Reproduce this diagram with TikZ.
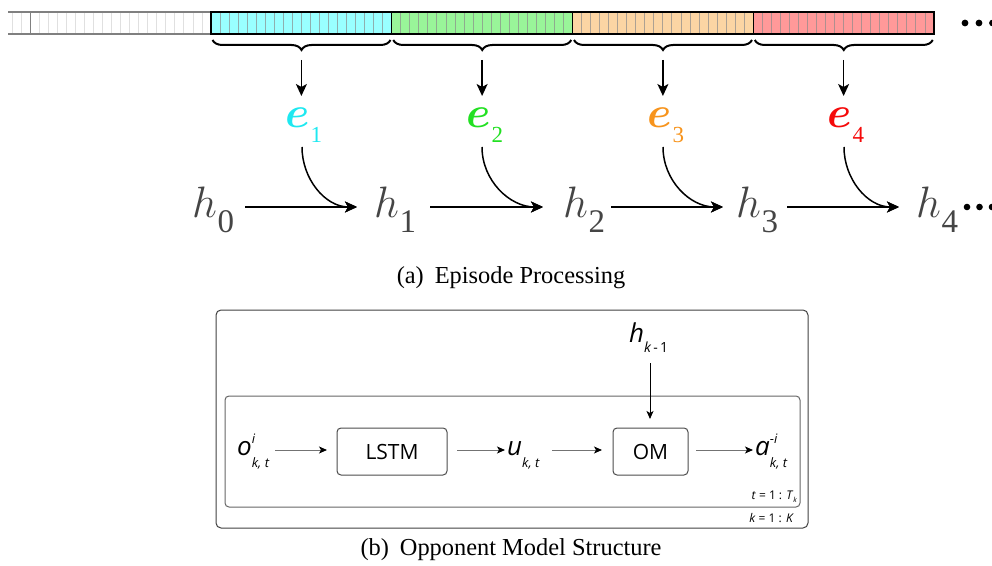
\RequirePackage{fix-cm}
\documentclass[tikz,border=0pt]{standalone}
\usepackage{fontspec}
\setmainfont{Liberation Serif}
\newfontfamily\tms{Liberation Serif}
\newfontfamily\osans{Open Sans}
\usetikzlibrary{arrows.meta,decorations.pathreplacing}
\definecolor{cfill}{HTML}{99FFFF}
\definecolor{gfill}{HTML}{99F599}
\definecolor{ofill}{HTML}{FCD5A4}
\definecolor{rfill}{HTML}{FF9999}
\definecolor{ecolA}{HTML}{1EE8F0}
\definecolor{ecolB}{HTML}{22E022}
\definecolor{ecolC}{HTML}{F7941D}
\definecolor{ecolD}{HTML}{F50A0A}
\definecolor{hgrey}{HTML}{454545}
\newcommand\evar[1]{{\fontsize{44bp}{44bp}\selectfont\boldmath$e$}\kern1bp\raisebox{-15bp}{\tms\fontsize{23bp}{23bp}\selectfont #1}}
\newcommand\hvar[1]{{\fontsize{44bp}{44bp}\selectfont$h$}\kern0.5bp\raisebox{-15bp}{\tms\fontsize{33bp}{33bp}\selectfont #1}}
\newcommand\bvar[3]{{\fontsize{26bp}{26bp}\selectfont\itshape #1}\rlap{\raisebox{12bp}{\fontsize{13bp}{13bp}\selectfont #2}}\raisebox{-12bp}{\fontsize{13bp}{13bp}\selectfont #3}}
\tikzset{
  arr/.style={line width=1.5bp, -{Stealth[length=12bp,width=11bp,inset=3bp]}},
  sarr/.style={line width=1bp, draw=black!55, -{Stealth[length=8bp,width=7bp,inset=2bp,color=black]}},
  brc/.style={decorate, decoration={brace, mirror, amplitude=10bp}, line width=2bp},
  evn/.style={anchor=base west, inner sep=0pt},
  hvn/.style={anchor=base west, inner sep=0pt, text=hgrey},
  box/.style={draw=black!70, line width=1bp, rounded corners=4bp, minimum height=47bp, inner sep=0pt, font=\osans\fontsize{21bp}{21bp}\selectfont},
  vtxt/.style={anchor=base west, inner sep=0pt, font=\osans},
  captxt/.style={inner sep=0pt, font=\tms\fontsize{24.4bp}{30bp}\selectfont},
  dot/.style={fill=black}
}
\begin{document}
\begin{tikzpicture}[x=1bp,y=-1bp]
\useasboundingbox (0,0) rectangle (992,566);
% ---------- episode bar ----------
\def\cw{9.0375}
\foreach \k in {1,...,22} {
  \draw[black!12, line width=0.8bp] ({211-\k*\cw},12) -- ++(0,22);
}
\draw[black!50, line width=1bp] (30.25,12) -- (30.25,34);
\draw[black!50, line width=1.2bp] (8,12) -- (211,12) (8,34) -- (211,34);
\foreach \i/\c in {0/cfill,1/gfill,2/ofill,3/rfill} {
  \pgfmathsetmacro\xo{211+180.75*\i}
  \fill[\c] (\xo,12) rectangle ++(180.75,22);
  \foreach \j in {1,...,19} {
    \draw[black!45, opacity=0.7, line width=0.9bp] ({\xo+\j*\cw},12) -- ++(0,22);
  }
  \draw[black, line width=1.2bp] (\xo,12) rectangle ++(180.75,22);
  \draw[brc] ({\xo+1.5},40) -- ({\xo+179.5},40);
}
\fill[dot] (965,23) circle (3.4bp) (979,23) circle (3.4bp) (992.5,23) circle (3.4bp);
% ---------- e nodes ----------
\node[evn, text=ecolA] (e1) at (285,128) {\evar{1}};
\node[evn, text=ecolB] (e2) at (466,128) {\evar{2}};
\node[evn, text=ecolC] (e3) at (647,128) {\evar{3}};
\node[evn, text=ecolD] (e4) at (827,128) {\evar{4}};
\coordinate (b1) at (301.4,60);
\coordinate (b2) at (482.1,60);
\coordinate (b3) at (662.9,60);
\coordinate (b4) at (843.6,60);
\foreach \n in {1,2,3,4} {
  \draw[arr] (b\n) -- (b\n |- 0,96);
}
% ---------- h nodes ----------
\node[hvn] (h0) at (192,218) {\hvar{0}};
\node[hvn] (h1) at (374,218) {\hvar{1}};
\node[hvn] (h2) at (563,218) {\hvar{2}};
\node[hvn] (h3) at (736,218) {\hvar{3}};
\node[hvn] (h4) at (916,218) {\hvar{4}};
\coordinate (s0) at (245,207); \coordinate (t1) at (357,207);
\coordinate (s1) at (430,207); \coordinate (t2) at (543,207);
\coordinate (s2) at (611,207); \coordinate (t3) at (723,207);
\coordinate (s3) at (787,207); \coordinate (t4) at (899,207);
\draw[arr] (s0) -- (t1);
\draw[arr] (s1) -- (t2);
\draw[arr] (s2) -- (t3);
\draw[arr] (s3) -- (t4);
\draw[arr] (302,147) to[out=-90,in=180] (t1);
\draw[arr] (482,147) to[out=-90,in=180] (t2);
\draw[arr] (663,147) to[out=-90,in=180] (t3);
\draw[arr] (844,147) to[out=-90,in=180] (t4);
\fill[dot] (967,207) circle (3.3bp) (979.5,207) circle (3.3bp) (992,207) circle (3.3bp);
\node[captxt] (capa) at (511,278) {(a)\hspace{0.45em}Episode Processing};
% ---------- opponent model ----------
\draw[black!75, line width=1bp, rounded corners=5bp] (216,310) rectangle (808,528);
\draw[black!60, line width=1bp, rounded corners=4bp] (225,396) rectangle (800,507);
\node[box, minimum width=110bp] (lstm) at (392,451.5) {LSTM};
\node[box, minimum width=75bp] (om) at (650.5,451.5) {OM};
\node[vtxt] (o) at (237,455) {\bvar{o}{\itshape i}{\itshape k, t}};
\node[vtxt] (u) at (507,455) {\bvar{u}{}{\itshape k, t}};
\node[vtxt] (a) at (755,455) {\bvar{a}{-\itshape i}{\itshape k, t}};
\node[anchor=base west, inner sep=0pt, font=\osans] (hk) at (629,342) {{\fontsize{26bp}{26bp}\selectfont\itshape h}\raisebox{-10bp}{\fontsize{14bp}{14bp}\selectfont\itshape k\upshape\,-\,1}};
\coordinate (o1) at (275,450); \coordinate (l1) at (327,450);
\coordinate (l2) at (457,450); \coordinate (u1) at (505,450);
\coordinate (u2) at (552,450); \coordinate (m1) at (602,450);
\coordinate (m2) at (696,450); \coordinate (a1) at (753,450);
\coordinate (k1) at (650,363); \coordinate (k2) at (650,419);
\draw[sarr] (o1) -- (l1);
\draw[sarr] (l2) -- (u1);
\draw[sarr] (u2) -- (m1);
\draw[sarr] (m2) -- (a1);
\draw[sarr, draw=black] (k1) -- (k2);
\node[anchor=base east, inner sep=0pt, font=\osans\fontsize{12bp}{12bp}\selectfont] (tl) at (797,499) {\textit{t} = 1 : \textit{T}\raisebox{-3bp}{\fontsize{7bp}{7bp}\selectfont\itshape k}};
\node[anchor=base east, inner sep=0pt, font=\osans\fontsize{12bp}{12bp}\selectfont] (kl) at (794,522) {\textit{k} = 1 : \textit{K}};
\node[captxt] (capb) at (511,550) {(b)\hspace{0.45em}Opponent Model Structure};
\end{tikzpicture}
\end{document}
